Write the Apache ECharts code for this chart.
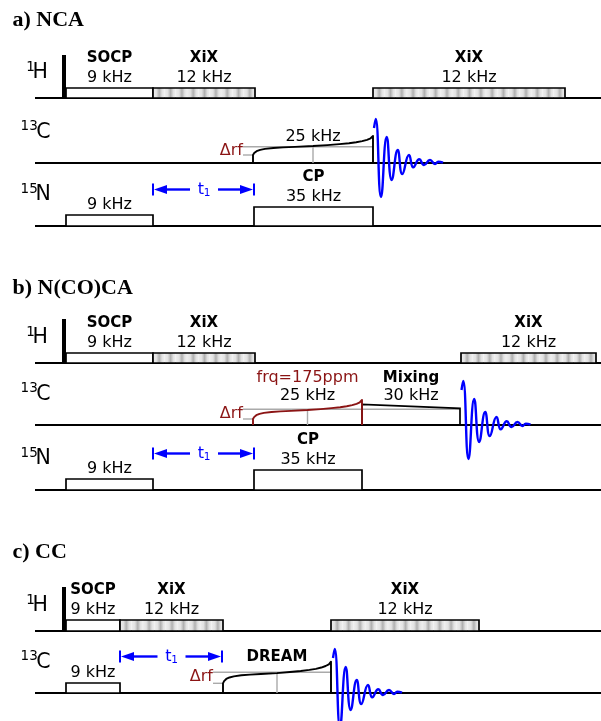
<!DOCTYPE html>
<html><head><meta charset="utf-8">
<script src="https://cdn.jsdelivr.net/npm/echarts/dist/echarts.min.js"></script>
<style>html,body{margin:0;padding:0;background:#fff}#c{width:601px;height:721px}</style>
</head><body><div id="c"></div>
<script>
// ---------------- DATA ----------------
const panelTitles = ['a) NCA', 'b) N(CO)CA', 'c) CC'];
const channelNuclei = [['1H', '13C', '15N'], ['1H', '13C', '15N'], ['1H', '13C']];

// rectangular pulses: [channel, type, start, end, amplitude, name, rf-field]
const pulsesNCA = [
  [0, 'p90', 62, 66, 43, '', ''],
  [0, 'box', 66, 153, 10, 'SOCP', '9 kHz'],
  [0, 'xix', 153, 255, 10, 'XiX', '12 kHz'],
  [0, 'xix', 373, 565, 10, 'XiX', '12 kHz'],
  [2, 'box', 66, 153, 11, '', '9 kHz'],
  [2, 'box', 254, 373, 19, 'CP', '35 kHz']
];
const pulsesNCOCA = [
  [0, 'p90', 62, 66, 44, '', ''],
  [0, 'box', 66, 153, 10, 'SOCP', '9 kHz'],
  [0, 'xix', 153, 255, 10, 'XiX', '12 kHz'],
  [0, 'xix', 461, 596, 10, 'XiX', '12 kHz'],
  [2, 'box', 66, 153, 11, '', '9 kHz'],
  [2, 'box', 254, 362, 20, 'CP', '35 kHz']
];
const pulsesCC = [
  [0, 'p90', 62, 66, 44, '', ''],
  [0, 'box', 66, 120, 11, 'SOCP', '9 kHz'],
  [0, 'xix', 120, 223, 11, 'XiX', '12 kHz'],
  [0, 'xix', 331, 479, 11, 'XiX', '12 kHz'],
  [1, 'box', 66, 120, 10, '', '9 kHz']
];
// ramped pulses: [panel, channel, start, end, startAmp, nominalAmp, endAmp, name, rf, note]
const rampPulses = [
  [0, 1, 253, 373, 8, 16.3, 27, '', '25 kHz', ''],
  [1, 1, 253, 362, 6, 15.7, 25, '', '25 kHz', 'frq=175ppm'],
  [2, 1, 223, 331, 9.7, 20.7, 31.3, 'DREAM', '', '']
];
// ramp shape: [fraction of duration, fraction of start->end amplitude]
const rampProfile = [[0,0],[0.01,0.1],[0.03,0.2],[0.06,0.27],[0.1,0.32],[0.17,0.37],[0.25,0.4],[0.35,0.43],[0.5,0.47],[0.62,0.52],[0.72,0.57],[0.8,0.62],[0.86,0.67],[0.91,0.73],[0.95,0.8],[0.98,0.88],[1,1]];
// mixing: [panel, channel, start, end, startAmp, endAmp, nominalAmp, name, rf]
const mixingPulses = [[1, 1, 362, 460, 20.7, 16.7, 15.7, 'Mixing', '30 kHz']];
// evolution periods t1: [panel, channel, start, end]
const t1Periods = [[0, 2, 153, 254], [1, 2, 153, 254], [2, 1, 120, 222]];
// acquisition start per panel (on 13C)
const acqStart = [374, 461.5, 333];
// FID extrema: [time offset, amplitude]
const fidShape = [[0,35],[1.7,44],[7,-34],[12.7,26],[17.7,-17],[23.7,13],[28.3,-11],[35,8],[39.3,-4.3],[45.3,3.7],[50,-2],[56,3],[61,-1],[64.3,1.3],[69,0.3]];

// ---------------- LAYOUT / STYLE ----------------
const baselinesY = [[98, 163, 226], [363, 425, 490], [631, 693]];
const titleY = [20.5, 288, 552.5];
const titleX = 12.5;
const lineStartX = 35;
const nucleusX = {H: 32.4, C: 36.3, N: 35.4};
const supRightX = {H: 34.8, C: 37.8, N: 37.8};
const nucleusDY = {H: -25, C: -30.5, N: -31};
const rampLabelDY = [{rf: -26}, {rf: -29.5, note: -47}, {name: -36}];
const mixLabelDY = {name: -47, rf: -29.5};
const t1DY = -36.5;
const INK = '#000';
const DR = '#8b1414';
const BLUE = '#0000ff';
const GRAY = '#aaaaaa';
const SANS = '"DejaVu Sans", Verdana, sans-serif';
const SERIF = '"Liberation Serif", "Times New Roman", serif';

// ---------------- BUILD ELEMENTS ----------------
const elements = [];
channelNuclei.forEach((chs, p) => chs.forEach((n, c) => elements.push({kind: 'channel', p, c, nucleus: n})));
panelTitles.forEach((t, p) => elements.push({kind: 'title', p, text: t}));
mixingPulses.forEach(m => elements.push({kind: 'mix', p: m[0], c: m[1], t0: m[2], t1: m[3], hL: m[4], hR: m[5], hn: m[6], name: m[7], rf: m[8]}));
rampPulses.forEach((r, i) => elements.push({kind: 'ramp', i, p: r[0], c: r[1], t0: r[2], t1: r[3], h0: r[4], hn: r[5], h1: r[6], name: r[7], rf: r[8], note: r[9]}));
[pulsesNCA, pulsesNCOCA, pulsesCC].forEach((arr, p) => arr.forEach(r =>
  elements.push({kind: r[1], p, c: r[0], t0: r[2], t1: r[3], h: r[4], name: r[5], rf: r[6]})));
t1Periods.forEach(t => elements.push({kind: 't1', p: t[0], c: t[1], t0: t[2], t1: t[3]}));

function renderItem(params, api) {
  const e = elements[params.dataIndex];
  const C = (x, y) => api.coord([x, y]);
  const base = e.c !== undefined ? baselinesY[e.p][e.c] : 0;
  const T = (x, y, text, size, o) => {
    o = o || {};
    const pt = C(x, y);
    return {type: 'text', style: {text, x: pt[0], y: pt[1], fill: o.color || INK, fontSize: size,
      fontFamily: o.family || SANS, fontWeight: o.weight || 'normal', align: o.align || 'center', verticalAlign: 'middle'}};
  };
  const Ln = (x1, y1, x2, y2, color, w) => {
    const a = C(x1, y1), b = C(x2, y2);
    return {type: 'line', shape: {x1: a[0], y1: a[1], x2: b[0], y2: b[1]}, style: {stroke: color, lineWidth: w, lineCap: 'butt'}};
  };
  const R = (x0, y0, x1, y1, style) => {
    const a = C(x0, y0), b = C(x1, y1);
    return {type: 'rect', shape: {x: a[0], y: a[1], width: b[0] - a[0], height: b[1] - a[1]}, style};
  };
  const boxLabels = (e, top) => {
    const out = [];
    const mid = (e.t0 + e.t1) / 2;
    if (e.rf) out.push(T(mid, top - 10.3, e.rf, 16));
    if (e.name) out.push(T(mid, top - 30, e.name, 15, {weight: 'bold'}));
    return out;
  };
  let ch = [];
  switch (e.kind) {
    case 'title':
      ch.push(T(titleX, titleY[e.p], e.text, 22, {family: SERIF, weight: 'bold', align: 'left'}));
      break;
    case 'channel': {
      const m = e.nucleus.match(/^(\d+)(\D+)$/);
      const L = m[2];
      const b = baselinesY[e.p][e.c];
      ch.push(Ln(lineStartX, b, 601, b, INK, 2));
      ch.push(T(nucleusX[L], b + nucleusDY[L], L, 20.5, {align: 'left'}));
      ch.push(T(supRightX[L], b + nucleusDY[L] - 6, m[1], 13.5, {align: 'right'}));
      break;
    }
    case 'p90':
      ch.push(R(e.t0, base - e.h, e.t1, base, {fill: INK}));
      break;
    case 'box':
      ch.push(R(e.t0, base - e.h, e.t1, base, {fill: '#fff', stroke: INK, lineWidth: 1.7}));
      ch = ch.concat(boxLabels(e, base - e.h));
      break;
    case 'xix': {
      const n = Math.max(1, Math.round((e.t1 - e.t0) / 11.3));
      const w = (e.t1 - e.t0) / n;
      for (let k = 0; k < n; k++) {
        ch.push(R(e.t0 + k * w, base - e.h, e.t0 + (k + 1) * w, base, {
          fill: new echarts.graphic.LinearGradient(0, 0, 1, 0, [
            {offset: 0, color: '#eeeeee'}, {offset: 0.3, color: '#e2e2e2'}, {offset: 0.55, color: '#b0b0b0'},
            {offset: 0.8, color: '#e2e2e2'}, {offset: 1, color: '#eeeeee'}])
        }));
      }
      ch.push(R(e.t0, base - e.h, e.t1, base, {fill: 'none', stroke: INK, lineWidth: 1.7}));
      ch = ch.concat(boxLabels(e, base - e.h));
      break;
    }
    case 'ramp': {
      const color = e.note ? DR : INK;
      const mid = (e.t0 + e.t1) / 2;
      ch.push(Ln(e.t0 - 10, base - e.hn, e.t1, base - e.hn, GRAY, 1.4));
      ch.push(Ln(e.t0 - 10, base - e.h0, e.t0, base - e.h0, GRAY, 1.4));
      ch.push(Ln(mid, base - e.hn, mid, base, GRAY, 1.4));
      const pts = [C(e.t0, base)];
      rampProfile.forEach(([f, g]) => pts.push(C(e.t0 + f * (e.t1 - e.t0), base - (e.h0 + g * (e.h1 - e.h0)))));
      pts.push(C(e.t1, base));
      ch.push({type: 'polyline', shape: {points: pts}, style: {stroke: color, fill: 'none', lineWidth: 1.9, lineJoin: 'round'}});
      ch.push(T(e.t0 - 10, base - (e.h0 + e.hn) / 2 - 0.5, 'Δrf', 16, {color: DR, align: 'right'}));
      const d = rampLabelDY[e.i];
      if (e.rf) ch.push(T(mid, base + d.rf, e.rf, 16));
      if (e.note) ch.push(T(mid, base + d.note, e.note, 16, {color: DR}));
      if (e.name) ch.push(T(mid, base + d.name, e.name, 15, {weight: 'bold'}));
      break;
    }
    case 'mix': {
      const mid = (e.t0 + e.t1) / 2;
      ch.push(Ln(e.t0, base - e.hn, e.t1, base - e.hn, GRAY, 1.4));
      ch.push({type: 'polyline', shape: {points: [C(e.t0, base), C(e.t0, base - e.hL), C(e.t1, base - e.hR), C(e.t1, base)]},
        style: {stroke: INK, fill: 'none', lineWidth: 1.7}});
      ch.push(T(mid, base + mixLabelDY.rf, e.rf, 16));
      ch.push(T(mid, base + mixLabelDY.name, e.name, 15, {weight: 'bold'}));
      break;
    }
    case 't1': {
      const y = base + t1DY;
      const mid = (e.t0 + e.t1) / 2;
      const head = 14, hh = 4.5;
      ch.push(Ln(e.t0, y - 6, e.t0, y + 6, BLUE, 2));
      ch.push(Ln(e.t1, y - 6, e.t1, y + 6, BLUE, 2));
      ch.push(Ln(e.t0 + head - 1, y, mid - 13.5, y, BLUE, 2.4));
      ch.push(Ln(mid + 14.5, y, e.t1 - head + 1, y, BLUE, 2.4));
      ch.push({type: 'polygon', shape: {points: [C(e.t0 + 1, y), C(e.t0 + head, y - hh), C(e.t0 + head, y + hh)]}, style: {fill: BLUE}});
      ch.push({type: 'polygon', shape: {points: [C(e.t1 - 1, y), C(e.t1 - head, y - hh), C(e.t1 - head, y + hh)]}, style: {fill: BLUE}});
      ch.push(T(mid + 0.5, y, 't', 16, {color: BLUE, align: 'right'}));
      ch.push(T(mid + 0.3, y + 3.7, '1', 10.5, {color: BLUE, align: 'left'}));
      break;
    }
  }
  return {type: 'group', children: ch};
}

const fidSeries = acqStart.map((x0, p) => {
  const b = baselinesY[p][1];
  return {
    type: 'line', data: fidShape.map(([dx, a]) => [x0 + dx, b - a]),
    smooth: 0.5, symbol: 'none', silent: true, z: 5,
    lineStyle: {color: BLUE, width: 2.4}
  };
});

const chart = echarts.init(document.getElementById('c'), null, {renderer: 'canvas'});
chart.setOption({
  animation: false,
  backgroundColor: '#fff',
  grid: {left: 0, right: 0, top: 0, bottom: 0, containLabel: false},
  xAxis: {type: 'value', min: 0, max: 601, show: false},
  yAxis: {type: 'value', min: 0, max: 721, inverse: true, show: false},
  series: [
    {type: 'custom', renderItem, data: elements.map((e, i) => [i, 0]), silent: true, z: 2, clip: false}
  ].concat(fidSeries)
});
</script></body></html>
